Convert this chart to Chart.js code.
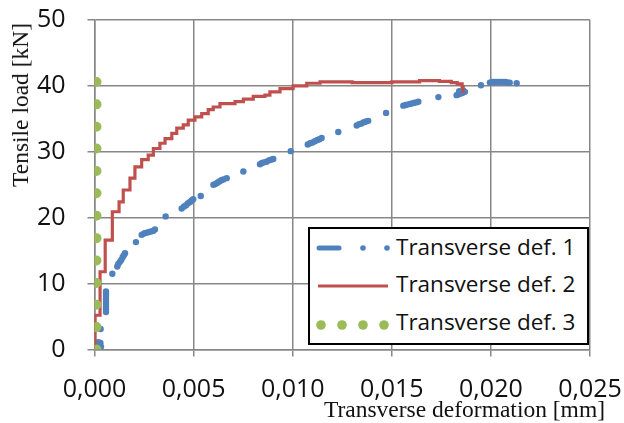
<!DOCTYPE html>
<html>
<head>
<meta charset="utf-8">
<script src="https://cdn.jsdelivr.net/npm/chart.js@4/dist/chart.umd.min.js"></script>
<style>
  html, body { margin: 0; padding: 0; background: #fff; }
  #wrap { position: relative; width: 624px; height: 423px; overflow: hidden; }
  #wrap canvas { position: absolute; left: 0; top: 0; }
  .ttl { position: absolute; font-family: 'Liberation Serif', 'Times New Roman', serif; font-size: 23.5px; line-height: 24px; color: #111; white-space: nowrap; }
  #ytitle { left: 20px; top: 104.5px; transform: translate(-50%, -50%) rotate(-90deg); }
  #xtitle { right: 19px; top: 397px; }
  #legend { position: absolute; left: 308px; top: 227px; width: 281px; height: 118px; box-sizing: border-box; border: 2px solid #000; background: #fff; }
  .lg-txt { position: absolute; left: 396px; font-family: 'Open Sans', sans-serif; font-size: 22.5px; line-height: 22px; color: #111; white-space: nowrap; }
  #lgsym { position: absolute; left: 308px; top: 227px; }
</style>
</head>
<body>
<div id="wrap">
  <canvas id="chart" width="624" height="423"></canvas>
  <div id="ytitle" class="ttl">Tensile load [kN]</div>
  <div id="xtitle" class="ttl">Transverse deformation [mm]</div>
  <div id="legend"></div>
  <svg id="lgsym" width="90" height="118"></svg>
  <div class="lg-txt" style="top:236px">Transverse def. 1</div>
  <div class="lg-txt" style="top:273px">Transverse def. 2</div>
  <div class="lg-txt" style="top:310.5px">Transverse def. 3</div>
</div>
<script>
// ── Data ───────────────────────────────────────────────────────────
const xTickLabels = ['0,000', '0,005', '0,010', '0,015', '0,020', '0,025'];
const yTickLabels = ['0', '10', '20', '30', '40', '50'];

// Transverse def. 1 — clustered scatter points
const def1X = [
  0.00018, 0.00022, 0.00026, 0.00030, 0.00033, 0.00020, 0.00031,
  0.00058, 0.00058, 0.00058, 0.00058, 0.00058, 0.00058, 0.00058, 0.00058, 0.00058,
  0.00090,
  0.00115, 0.00120, 0.00128, 0.00135, 0.00142, 0.00148, 0.00154,
  0.00209,
  0.00238, 0.00250, 0.00260, 0.00272, 0.00285, 0.00295, 0.00305,
  0.00359,
  0.00440, 0.00452, 0.00462, 0.00472, 0.00482, 0.00490, 0.00498,
  0.00536,
  0.00600, 0.00610, 0.00620, 0.00630, 0.00640, 0.00650, 0.00667,
  0.00751,
  0.00835, 0.00845, 0.00855, 0.00868, 0.00880, 0.00890, 0.00902,
  0.00990,
  0.01076, 0.01088, 0.01100, 0.01112, 0.01124, 0.01135, 0.01146,
  0.01230,
  0.01323, 0.01335, 0.01347, 0.01360, 0.01370, 0.01381,
  0.01471,
  0.01558, 0.01570, 0.01583, 0.01596, 0.01610, 0.01622, 0.01634,
  0.01735,
  0.01827, 0.01835, 0.01843, 0.01852, 0.01860, 0.01869, 0.01840, 0.01860,
  0.01950,
  0.01995, 0.02005, 0.02015, 0.02025, 0.02035, 0.02045, 0.02055, 0.02065, 0.02075, 0.02085, 0.02095,
  0.02130,
];
const def1Y = [
  0.2, 0.5, 0.8, 1.0, 0.4, 1.1, 3.1,
  5.7, 6.1, 6.5, 6.9, 7.3, 7.7, 8.1, 8.5, 8.8,
  11.5,
  12.6, 13.0, 13.3, 13.6, 14.0, 14.3, 14.6,
  16.3,
  17.4, 17.6, 17.7, 17.8, 17.9, 18.0, 18.2,
  20.2,
  21.4, 21.7, 21.9, 22.2, 22.4, 22.6, 22.8,
  23.3,
  25.0, 25.1, 25.3, 25.5, 25.7, 25.8, 26.0,
  27.0,
  28.1, 28.3, 28.4, 28.5, 28.7, 28.8, 28.9,
  30.1,
  31.1, 31.3, 31.4, 31.6, 31.8, 31.9, 32.1,
  33.0,
  34.0, 34.2, 34.3, 34.5, 34.6, 34.7,
  35.9,
  37.0, 37.1, 37.2, 37.3, 37.4, 37.5, 37.6,
  38.3,
  38.6, 38.7, 38.8, 38.9, 39.0, 39.1, 39.2, 39.3,
  40.1,
  40.5, 40.6, 40.6, 40.6, 40.6, 40.6, 40.6, 40.6, 40.6, 40.5, 40.5,
  40.4,
];

// Transverse def. 2 — stepped line (top of each riser)
const def2X = [
  0.00003, 0.00003, 0.00028, 0.00054, 0.00090, 0.00124, 0.00145, 0.00179, 0.00204,
  0.00238, 0.00271, 0.00297, 0.00330, 0.00356, 0.00390, 0.00415, 0.00448, 0.00473,
  0.00507, 0.00541, 0.00574, 0.00599, 0.00633, 0.00709, 0.00751, 0.00801, 0.00860,
  0.00885, 0.00936, 0.01002, 0.01071, 0.01138, 0.01300, 0.01500, 0.01640, 0.01740,
  0.01800, 0.01830, 0.01855, 0.01860,
];
const def2Y = [
  0.0, 5.2, 11.8, 16.6, 20.9, 22.4, 24.2, 26.0, 27.7,
  28.8, 29.5, 30.5, 31.3, 32.0, 32.8, 33.6, 34.1, 34.8,
  35.3, 35.8, 36.4, 36.8, 37.3, 37.6, 38.0, 38.4, 38.6,
  39.1, 39.6, 40.0, 40.4, 40.6, 40.5, 40.6, 40.8, 40.7,
  40.5, 40.3, 39.9, 38.9,
];

// Transverse def. 3 — points along the load axis
const def3X = [0.0001, 0.0001, 0.0001, 0.0001, 0.0001, 0.0001, 0.0001, 0.0001, 0.0001, 0.0001, 0.0001, 0.0001, 0.0001];
const def3Y = [0.0, 3.4, 6.8, 10.1, 13.5, 16.9, 20.3, 23.7, 27.1, 30.5, 33.8, 37.2, 40.6];

const BLUE = '#4F81BD';
const RED = '#C0504D';
const GREEN = '#9BBB59';
const GRID_DARK = '#878787';
const GRID_LIGHT = '#c3c3c3';

const pts = (xs, ys) => xs.map((x, i) => ({ x, y: ys[i] }));

// ── Legend symbols (HTML overlay) ──────────────────────────────────
const svg = document.getElementById('lgsym');
svg.innerHTML = `
  <line x1="11" y1="21" x2="31" y2="21" stroke="${BLUE}" stroke-width="5" stroke-linecap="round"/>
  <circle cx="55" cy="21" r="2.8" fill="${BLUE}"/>
  <circle cx="79" cy="21" r="2.8" fill="${BLUE}"/>
  <line x1="10" y1="59" x2="80" y2="59" stroke="${RED}" stroke-width="3"/>
  <circle cx="13" cy="98" r="4.8" fill="${GREEN}"/>
  <circle cx="34" cy="98" r="4.8" fill="${GREEN}"/>
  <circle cx="55" cy="98" r="4.8" fill="${GREEN}"/>
  <circle cx="76" cy="98" r="4.8" fill="${GREEN}"/>
`;

// ── Chart ──────────────────────────────────────────────────────────
Chart.defaults.font.family = "'Open Sans', sans-serif";
Chart.defaults.font.size = 25;
Chart.defaults.color = '#111';

new Chart(document.getElementById('chart'), {
  type: 'scatter',
  data: {
    datasets: [
      {
        label: 'Transverse def. 1',
        data: pts(def1X, def1Y),
        backgroundColor: BLUE,
        borderColor: BLUE,
        borderWidth: 0,
        pointRadius: 3.2,
        order: 3,
      },
      {
        label: 'Transverse def. 2',
        data: pts(def2X, def2Y),
        showLine: true,
        stepped: true,
        borderColor: RED,
        borderWidth: 3.2,
        pointRadius: 0,
        order: 2,
      },
      {
        label: 'Transverse def. 3',
        data: pts(def3X, def3Y),
        backgroundColor: GREEN,
        borderColor: GREEN,
        borderWidth: 0,
        pointRadius: 5,
        order: 1,
      },
    ],
  },
  options: {
    responsive: false,
    animation: false,
    layout: { padding: { left: 0, top: 20, right: 34, bottom: 0 } },
    plugins: { legend: { display: false }, tooltip: { enabled: false } },
    scales: {
      x: {
        type: 'linear',
        min: 0,
        max: 0.025,
        // pin the plot box: fixed height, no label overflow padding
        afterFit: s => { s.height = 73.5; s.paddingLeft = 0; s.paddingRight = 0; },
        ticks: {
          stepSize: 0.005,
          padding: 18,
          maxRotation: 0,
          callback: v => xTickLabels[Math.round(v / 0.005)],
        },
        grid: { color: GRID_DARK, lineWidth: 1.5, tickLength: 7, tickColor: GRID_DARK },
        border: { color: GRID_DARK, width: 1.5 },
      },
      y: {
        min: 0,
        max: 50,
        afterFit: s => { s.width = 94.5; s.paddingTop = 0; s.paddingBottom = 0; },
        ticks: {
          stepSize: 5,
          padding: 22,
          callback: v => (v % 10 === 0 ? yTickLabels[v / 10] : ''),
        },
        grid: {
          lineWidth: 1.5,
          tickLength: 7,
          color: c => (c.tick && c.tick.value % 10 === 0 ? GRID_DARK : GRID_LIGHT),
          tickColor: c => (c.tick && c.tick.value % 10 === 0 ? GRID_DARK : 'rgba(0,0,0,0)'),
        },
        border: { color: GRID_DARK, width: 1.5 },
      },
    },
  },
});
</script>
</body>
</html>
